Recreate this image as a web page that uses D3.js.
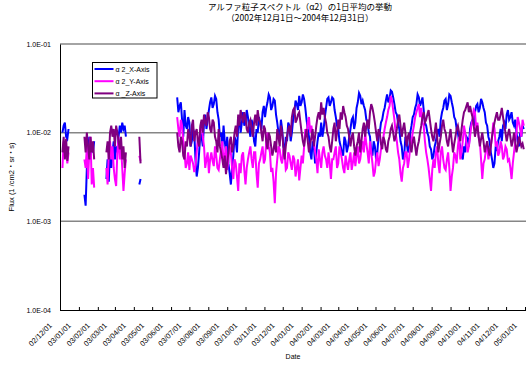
<!DOCTYPE html>
<html>
<head>
<meta charset="utf-8">
<script src="https://cdn.jsdelivr.net/npm/d3@7"></script>
<style>
  body { margin: 0; background: #fff; }
  svg { display: block; font-family: "Liberation Sans", "Noto Sans CJK JP", sans-serif; }
</style>
</head>
<body>
<svg id="chart" width="526" height="369"></svg>
<script>
const START = "2002-12-01";
const STEP_DAYS = 2;
const segStart = [2, 20, 38, 65, 96]; // grid index where each data segment begins

const seriesNames = ["α 2_X-Axis", "α 2_Y-Axis", "α _Z-Axis"];

const fluxX = [
  [10, 12, 13, 9, 8.5, 11],
  [2, 1.5, 4, 6, 9, 5, 7, 6, 8],
  [3, 5, 2.8, 7, 4, 6, 8, 5, 7, 6, 9, 12, 10, 13, 11, 12, 9],
  [2.6, 3],
  [25,17,20,22,14,9,18,12,11,15,13,7,8,11,10,5,3.2,4,6,10,
   9,7,13,16,11,14,18,22,25,19,21,26,24,17,14,9,10,7,12,8,
   6,9,4.5,3.5,2.6,4,5.5,9,8,6,12,15,10,13,17,12,13,18,15,11,
   9,14,12,8,7,11,10,15,13,11,17,20,15,19,22,27,25,18,20,24,
   23,16,13,10,9,14,11,7,6,9,8,13,12,8,10,14,17,23,21,18,
   26,20,22,27,24,19,14,11,9,6,5,8,7,4.5,6,8,10,9,13,9,
   11,15,19,24,25,20,22,25,24,18,15,12,11,8,7,6,5.5,9,8,6,
   7,9,11,14,15,11,13,19,22,28,26,21,23,20,18,14,13,10,9,6,
   5.5,8,7,5,6,9,10,13,14,17,19,23,27,22,24,30,29,25,21,17,
   16,13,11,8,7,5,5.5,9,8,6,6.5,10,12,15,16,19,21,27,25,20,
   22,25,18,13,12,10,9,7,6.5,5,5.5,7,8,10,11,9,14,17,19,23,
   24,18,21,27,26,22,19,15,14,11,10,8,7,5.5,5,7,6,9,8.5,7,
   11,13,14,12,17,20,21,17,19,24,22,19,17,13,12,9,8,6,5,4,
   4.5,7,6.5,8,9,11,8,12,13,11,16,18,14,15,17,13,12,14,10,8,
   7,10,9,12,11]
];

const fluxY = [
  [4, 8, 5.5, 7, 4.5, 6],
  [5, 4, 7, 3, 6, 9, 2.6, 4, 2.4],
  [4, 2.6, 6, 8, 5, 7, 4, 3, 2.5, 6, 9, 5, 7, 4, 2.2, 3.5, 5],
  [5.5, 4.8],
  [15,11,9,14,12,8,6,4,4.5,6,3.8,5.5,5,4.5,3.6,4.2,6,9,8,11,
   13,9,7,4,5,6,3.5,5,6,4.8,4.2,7,5.5,4,3.8,5,6.5,8,4.5,5.5,
   7,3.8,5,7,6,4,3,5,4.5,3.2,2.2,4.5,3.5,5.5,6,3.8,2.6,4,5,6,
   7,5,4,6,6,3.5,2.4,4.5,5,6,7,4.5,5,8,10,7,6,3.6,4,2.8,
   1.6,3.5,5,7,6.5,5,4.5,6.5,6,3.8,4,6,5.5,4.5,3.8,5.5,5,3.2,4,5,
   2.9,4,5.5,4.5,7,11,9,13,15,10,12,9,8,6,5,3.5,6.5,5,4,6,
   7,5.5,5,4,6,4.5,3,5,5,6,7,4,4.5,7,6,5,4,3.5,5.5,4.5,
   3.8,5,6,3.8,4.6,6,4.2,5.5,7,4.5,5,6.5,8,6,10,7.5,6,4.5,8,6,
   4.5,3.2,3.6,5,6,4.2,5,6.5,8,9,11,13,15,18,20,26,23,18,14,10,
   8,6,5,3.5,2.8,4,4.5,6,6,4,5,7,8,10,12,15,17,19,21,15,
   19,13,12,8,6,5,4,3,2.2,3.8,5,4,6,7,4.5,3.5,6,7,5,4,
   3.8,5,6,4,2.2,3.2,4,6,5.5,4.5,7,9,5,6,8,12,10,7.5,6,7,
   9,12,14,18,17,11,13,9,8,5,3,4.5,5,6.5,7,5,6,7,9,13,
   11,7,8,5.5,6,8,7,5,5.5,7,6.5,4.8,5,4,3,4.5,6,8,10,15,
   13,11,9,14,12]
];

const fluxZ = [
  [6, 9, 5, 8.5, 4.8, 7],
  [9, 6, 10, 7, 5, 9, 6, 8, 5],
  [6, 8, 5, 10, 12, 9, 11, 7, 12, 10, 8, 6.5, 9, 5, 7, 4, 6],
  [9, 4.5],
  [10,7,6,9,8,5.5,5,8,7,11,9,7,12,14,8,10,11,8,7,12,
   14,10,16,13,12,17,15,11,10,14,13,9,8,6,11,7,6,5,4,5.5,
   3.4,4.5,6,8,9,6,7,10,12,9,16,12,18,15,13,17,15,11,10,13,
   14,11,9,13,16,12,18,14,13,10,8,12,11,8,6.5,10,9,7,5.5,6.5,
   8,6,11,9,7,12,10,7,5,7,9,11,12,9,15,18,19,13,14,16,
   17,13,10,8,7,9,11,8,6,7.5,9,11,7,9,12,15,17,14,22,16,
   19,15,13,10,9,7,6,8,11,13,8,10,14,11,17,14,20,17,15,12,
   11,9,7,9,10,7,5.5,7,8,10,6,8,11,13,9,12,14,11,17,21,
   19,16,13,10,8,11,10,7.5,6.5,9,8,6.5,6,8,9,11,12,10,8,9,
   11,14,16,12,9,11,13,10,7,9,10,7,6,8,9,7,5.5,7,8,10,
   12,15,17,13,14,16,18,14,11,9,8,10,13,9,6,7.5,9,12,14,11,
   10,8,7,9,11,8,6,7.5,9,11,12,10,8,11,14,17,18,20,22,17,
   20,17,15,12,9,11,12,9,7,8.5,10,8,6,7,8,6.5,5.5,7,9,11,
   13,15,17,14,14,16,19,15,12,10,8,9.5,11,9,7,8,10,8,6,7,
   9,8,7,7.5,6.5]
];

const xTickLabels = ["02/12/01","03/01/01","03/02/01","03/03/01","03/04/01","03/05/01","03/06/01",
  "03/07/01","03/08/01","03/09/01","03/10/01","03/11/01","03/12/01","04/01/01","04/02/01",
  "04/03/01","04/04/01","04/05/01","04/06/01","04/07/01","04/08/01","04/09/01","04/10/01",
  "04/11/01","04/12/01","05/01/01"];
const yTickValues = [1e-4, 1e-3, 1e-2, 1e-1];
const yTickLabels = ["1.0E-04", "1.0E-03", "1.0E-02", "1.0E-01"];

const colors = ["#0000ff", "#ff00ff", "#800080"];

const svg = d3.select("#chart");
const margin = { top: 44, right: 1, bottom: 59, left: 60 };
const W = 526, H = 369;

const parseTick = d3.utcParse("%y/%m/%d");
const t0 = d3.utcParse("%Y-%m-%d")(START);
const tickDates = xTickLabels.map(parseTick);

const x = d3.scaleUtc()
  .domain([tickDates[0], tickDates[tickDates.length - 1]])
  .range([margin.left, W - margin.right]);
const y = d3.scaleLog()
  .domain([1e-4, 1e-1])
  .range([H - margin.bottom, margin.top]);

function toPoints(segs) {
  const pts = [];
  segs.forEach((seg, k) => {
    seg.forEach((v, j) => pts.push({ date: d3.utcDay.offset(t0, (segStart[k] + j) * STEP_DAYS), v: v * 1e-3 }));
    pts.push(null); // gap between segments
  });
  return pts;
}
const series = [fluxX, fluxY, fluxZ].map(toPoints);

// title
const titleFont = "'Noto Sans CJK JP', sans-serif";
svg.append("text").attr("x", 300).attr("y", 10).attr("text-anchor", "middle")
  .style("font-size", "8.5px").style("font-family", titleFont)
  .text("アルファ粒子スペクトル（α2）の1日平均の挙動");
svg.append("text").attr("x", 300).attr("y", 21).attr("text-anchor", "middle")
  .style("font-size", "8.5px").style("font-family", titleFont)
  .text("（2002年12月1日～2004年12月31日）");

// grid lines
svg.append("g").selectAll("line")
  .data(yTickValues.slice(1))
  .enter().append("line")
  .attr("x1", margin.left).attr("x2", W)
  .attr("y1", d => y(d)).attr("y2", d => y(d))
  .attr("stroke", "#868686").attr("stroke-width", 1.5);

// series lines
const line = d3.line()
  .defined(d => d !== null)
  .x(d => x(d.date))
  .y(d => y(d.v));

svg.append("g").selectAll("path")
  .data(series)
  .enter().append("path")
  .attr("d", line)
  .attr("fill", "none")
  .attr("stroke", (d, i) => colors[i])
  .attr("stroke-width", 2);

// axes
const yAxis = svg.append("g")
  .attr("transform", `translate(${margin.left},0)`)
  .call(d3.axisLeft(y).tickValues(yTickValues).tickFormat((d, i) => yTickLabels[i]).tickSize(0).tickPadding(9));
yAxis.select(".domain").attr("stroke", "#000");
yAxis.selectAll("text").style("font-size", "7px").attr("fill", "#000");

const xAxis = svg.append("g")
  .attr("transform", `translate(0,${H - margin.bottom})`)
  .call(d3.axisBottom(x).tickValues(tickDates).tickFormat((d, i) => xTickLabels[i]).tickSizeInner(-3).tickSizeOuter(0));
xAxis.select(".domain").attr("stroke", "#000").attr("d", `M${margin.left},0.5H${W}`);
xAxis.selectAll(".tick line").attr("stroke", "#000");
xAxis.selectAll("text")
  .style("font-size", "7.5px").attr("fill", "#000")
  .attr("text-anchor", "end")
  .attr("x", 0).attr("y", 0).attr("dy", 0)
  .attr("transform", "translate(-8,16) rotate(-45)");

// axis titles
svg.append("text").attr("x", 293).attr("y", 359).attr("text-anchor", "middle")
  .style("font-size", "7px").text("Date");
svg.append("text").attr("transform", "translate(14,177) rotate(-90)").attr("text-anchor", "middle")
  .style("font-size", "7.5px").text("Flux (1 /cm2・sr・s)");

// legend
const lg = svg.append("g").attr("transform", "translate(92.5,62.5)");
lg.append("rect").attr("width", 64.5).attr("height", 35.5)
  .attr("fill", "#fff").attr("stroke", "#000").attr("stroke-width", 1);
seriesNames.forEach((name, i) => {
  const yy = 6.5 + i * 12.2;
  lg.append("line").attr("x1", 2).attr("x2", 21).attr("y1", yy).attr("y2", yy)
    .attr("stroke", colors[i]).attr("stroke-width", 2);
  lg.append("text").attr("x", 23).attr("y", yy + 2.5).style("font-size", "7px").text(name);
});
</script>
</body>
</html>
